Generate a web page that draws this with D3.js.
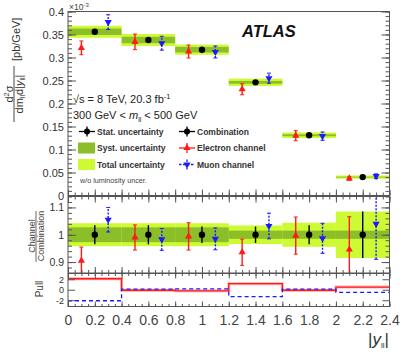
<!DOCTYPE html>
<html>
<head>
<meta charset="utf-8">
<script src="https://cdn.jsdelivr.net/npm/d3@7"></script>
<style>
  body { margin: 0; background: #fff; }
  svg { font-family: "Liberation Sans", Arial, sans-serif; }
</style>
</head>
<body>
<script>
// bins in |y_ll|
const binLo = [0, 0.4, 0.8, 1.2, 1.6, 2.0];
const binHi = [0.4, 0.8, 1.2, 1.6, 2.0, 2.4];
const combX = [0.2, 0.6, 1.0, 1.4, 1.8, 2.2];
const elecX = [0.1, 0.5, 0.9, 1.3, 1.7, 2.1];
const muonX = [0.3, 0.7, 1.1, 1.5, 1.9, 2.3];

// top panel cross sections (x1e-3 pb/GeV)
const comb = [0.356, 0.338, 0.317, 0.246, 0.131, 0.040];
const combErr = [0.006, 0.006, 0.005, 0.005, 0.004, 0.002];
const elec = [0.321, 0.334, 0.313, 0.231, 0.130, 0.037];
const elecErr = [0.015, 0.017, 0.014, 0.012, 0.011, 0.004];
const muon = [0.377, 0.331, 0.312, 0.255, 0.129, 0.042];
const muonErr = [0.016, 0.015, 0.013, 0.011, 0.009, 0.005];
const topTot = [0.013, 0.013, 0.011, 0.008, 0.006, 0.0035];
const topSyst = [0.007, 0.007, 0.006, 0.003, 0.002, 0.0008];

// ratio panel
const combRelErr = [0.035, 0.035, 0.03, 0.03, 0.035, 0.085];
const elecRatio = [0.905, 0.99, 0.994, 0.936, 0.997, 0.946];
const elecRatioErr = [0.05, 0.046, 0.05, 0.048, 0.068, 0.12];
const muonRatio = [1.055, 0.983, 0.985, 1.032, 0.987, 1.04];
const muonRatioErr = [0.045, 0.04, 0.04, 0.047, 0.055, 0.13];
const ratioTot = [0.042, 0.042, 0.042, 0.034, 0.044, 0.085];
const ratioSyst = [0.027, 0.027, 0.027, 0.015, 0.015, 0.015];

// pull panel
const elecPull = [2.1, -0.1, -0.2, 1.15, -0.1, 0.5];
const muonPull = [-2.1, 0.1, 0.15, -1.3, 0.1, -0.5];

const xTicks = [0, 0.2, 0.4, 0.6, 0.8, 1, 1.2, 1.4, 1.6, 1.8, 2, 2.2, 2.4];
const yTopTicks = [0, 0.05, 0.1, 0.15, 0.2, 0.25, 0.3, 0.35, 0.4];
const yRatioTicks = [0.9, 1, 1.1];
const yPullTicks = [-2, 0, 2];

const COL_TOT = "#cdfa32";
const COL_SYST = "#8cbe2a";
const COL_RED = "#ff1a1a";
const COL_BLUE = "#1a1aff";
const FRAME = "#555";

const W = 402, H = 355;
const svg = d3.select("body").append("svg").attr("width", W).attr("height", H);

const x = d3.scaleLinear().domain([0, 2.4]).range([68, 389.5]);
const yTop = d3.scaleLinear().domain([0, 0.4]).range([195.5, 11.5]);
const yRat = d3.scaleLinear().domain([0.86, 1.14]).range([273, 196.5]);
const yPull = d3.scaleLinear().domain([-3.2, 3.1]).range([306.5, 273.5]);

const idx = d3.range(comb.length);

// ---------- bands ----------
function bands(g, y, center, tot, syst) {
    g.selectAll(".tot").data(idx).join("rect")
        .attr("x", i => x(binLo[i])).attr("width", i => x(binHi[i]) - x(binLo[i]))
        .attr("y", i => y(center(i) + tot[i])).attr("height", i => y(center(i) - tot[i]) - y(center(i) + tot[i]))
        .attr("fill", COL_TOT);
    g.selectAll(".syst").data(idx).join("rect")
        .attr("x", i => x(binLo[i])).attr("width", i => x(binHi[i]) - x(binLo[i]))
        .attr("y", i => y(center(i) + syst[i])).attr("height", i => Math.max(0.8, y(center(i) - syst[i]) - y(center(i) + syst[i])))
        .attr("fill", COL_SYST);
}
bands(svg.append("g"), yTop, i => comb[i], topTot, topSyst);
bands(svg.append("g"), yRat, i => 1, ratioTot, ratioSyst);

// ---------- points ----------
const tri = d3.symbol().type(d3.symbolTriangle).size(22);
function points(g, y, xs, vals, errs, color, kind) {
    const lo = y.domain()[0], hi = y.domain()[1];
    const grp = g.selectAll("g").data(idx).join("g");
    grp.append("line")
        .attr("x1", i => x(xs[i])).attr("x2", i => x(xs[i]))
        .attr("y1", i => y(Math.max(lo, vals[i] - errs[i])))
        .attr("y2", i => y(Math.min(hi, vals[i] + errs[i])))
        .attr("stroke", color).attr("stroke-width", 1.4)
        .attr("stroke-dasharray", kind === "muon" ? "2,1.5" : null);
    if (kind !== "comb") {
        [1, -1].forEach(s => {
            grp.filter(i => (s > 0 ? vals[i] + errs[i] < hi : vals[i] - errs[i] > lo))
                .append("line")
                .attr("x1", i => x(xs[i]) - 2).attr("x2", i => x(xs[i]) + 2)
                .attr("y1", i => y(vals[i] + s * errs[i])).attr("y2", i => y(vals[i] + s * errs[i]))
                .attr("stroke", color).attr("stroke-width", 1);
        });
    }
    if (kind === "comb") {
        grp.append("circle").attr("cx", i => x(xs[i])).attr("cy", i => y(vals[i]))
            .attr("r", 3.2).attr("fill", color);
    } else {
        grp.append("path")
            .attr("transform", i => `translate(${x(xs[i])},${y(vals[i])}) rotate(${kind === "muon" ? 180 : 0})`)
            .attr("d", tri).attr("fill", color);
    }
}
points(svg.append("g"), yTop, elecX, elec, elecErr, COL_RED, "elec");
points(svg.append("g"), yTop, muonX, muon, muonErr, COL_BLUE, "muon");
points(svg.append("g"), yTop, combX, comb, combErr, "#000", "comb");

const ones = idx.map(() => 1);
points(svg.append("g"), yRat, elecX, elecRatio, elecRatioErr, COL_RED, "elec");
points(svg.append("g"), yRat, muonX, muonRatio, muonRatioErr, COL_BLUE, "muon");
points(svg.append("g"), yRat, combX, ones, combRelErr, "#000", "comb");

// ---------- pull steps ----------
function stepPts(vals) {
    const pts = [];
    idx.forEach(i => { pts.push([binLo[i], vals[i]]); pts.push([binHi[i], vals[i]]); });
    return pts;
}
const pullLine = d3.line().x(d => x(d[0])).y(d => yPull(d[1]));
svg.append("path").attr("d", pullLine(stepPts(elecPull)))
    .attr("fill", "none").attr("stroke", "#ffb0b0").attr("stroke-width", 3);
svg.append("path").attr("d", pullLine(stepPts(elecPull)))
    .attr("fill", "none").attr("stroke", COL_RED).attr("stroke-width", 1.3);
svg.append("path").attr("d", pullLine(stepPts(muonPull)))
    .attr("fill", "none").attr("stroke", COL_BLUE).attr("stroke-width", 1.3)
    .attr("stroke-dasharray", "4,3");

// ---------- frames and ticks ----------
function frame(y0, y1) {
    svg.append("rect").attr("x", x(0)).attr("y", y0).attr("width", x(2.4) - x(0)).attr("height", y1 - y0)
        .attr("fill", "none").attr("stroke", FRAME).attr("stroke-width", 1);
}
function ticks(axisFn, scale, vals, size, tx, ty, labels, fmt, fsize) {
    const a = axisFn(scale).tickValues(vals).tickSize(-size).tickPadding(4)
        .tickFormat(labels ? fmt : "");
    const g = svg.append("g").attr("transform", `translate(${tx},${ty})`).call(a);
    g.select(".domain").remove();
    g.selectAll("line").attr("stroke", FRAME);
    g.selectAll("text").attr("fill", "#333").attr("font-size", fsize);
    return g;
}
const xMinor = d3.range(0, 2.401, 0.05);
const fmtTop = d => d === 0 ? "0" : String(+d.toFixed(2));

// top panel
frame(yTop(0.4), yTop(0));
ticks(d3.axisBottom, x, xTicks, 6, 0, yTop(0), false);
ticks(d3.axisBottom, x, xMinor, 3, 0, yTop(0), false);
ticks(d3.axisLeft, yTop, yTopTicks, 8, x(0), 0, true, fmtTop, 11);
ticks(d3.axisLeft, yTop, d3.range(0, 0.401, 0.01), 4, x(0), 0, false);
ticks(d3.axisRight, yTop, yTopTicks, 8, x(2.4), 0, false);
ticks(d3.axisRight, yTop, d3.range(0, 0.401, 0.01), 4, x(2.4), 0, false);

// ratio panel
frame(yRat(1.14), yRat(0.86));
ticks(d3.axisTop, x, xTicks, 6, 0, yRat(1.14), false);
ticks(d3.axisTop, x, xMinor, 3, 0, yRat(1.14), false);
ticks(d3.axisBottom, x, xTicks, 6, 0, yRat(0.86), false);
ticks(d3.axisBottom, x, xMinor, 3, 0, yRat(0.86), false);
ticks(d3.axisLeft, yRat, yRatioTicks, 8, x(0), 0, true, d => String(d), 10.5);
ticks(d3.axisLeft, yRat, d3.range(0.86, 1.141, 0.02), 4, x(0), 0, false);
ticks(d3.axisRight, yRat, yRatioTicks, 8, x(2.4), 0, false);
ticks(d3.axisRight, yRat, d3.range(0.86, 1.141, 0.02), 4, x(2.4), 0, false);

// pull panel
frame(yPull(3.1), yPull(-3.2));
ticks(d3.axisTop, x, xTicks, 5, 0, yPull(3.1), false);
ticks(d3.axisTop, x, xMinor, 2.5, 0, yPull(3.1), false);
ticks(d3.axisBottom, x, xTicks, 5, 0, yPull(-3.2), true, d => String(d), 14)
    .selectAll("text").attr("dy", "1.05em").attr("fill", "#444");
ticks(d3.axisBottom, x, xMinor, 2.5, 0, yPull(-3.2), false);
ticks(d3.axisLeft, yPull, yPullTicks, 7, x(0), 0, true, d => String(d), 9);
ticks(d3.axisRight, yPull, yPullTicks, 7, x(2.4), 0, false);

// ---------- texts ----------
const txt = (xx, yy, s, size, opt = {}) => svg.append("text").attr("x", xx).attr("y", yy)
    .attr("font-size", size).attr("fill", opt.fill || "#222")
    .attr("font-weight", opt.weight || null).attr("font-style", opt.style || null)
    .attr("text-anchor", opt.anchor || null).text(s);

// x10^-3
const ex = txt(69, 9.5, "\u00d710", 8.5, { fill: "#444" });
ex.append("tspan").attr("dy", -3).attr("font-size", 6).text("-3");

txt(242, 36.5, "ATLAS", 16.5, { weight: "bold", style: "italic", fill: "#111" });

const l1 = txt(73, 103, "\u221As = 8 TeV, 20.3 fb", 11);
l1.append("tspan").attr("dy", -4).attr("font-size", 7.5).text("-1");
const l2 = txt(73, 119, "300 GeV < ", 11);
l2.append("tspan").attr("font-style", "italic").text("m");
l2.append("tspan").attr("dy", 2.5).attr("font-size", 7).text("ll");
l2.append("tspan").attr("dy", -2.5).text(" < 500 GeV");

// y titles
const rot = (xx, yy) => `translate(${xx},${yy}) rotate(-90)`;
const num = svg.append("text").attr("transform", rot(12.5, 94)).attr("text-anchor", "middle")
    .attr("font-size", 11).attr("fill", "#333");
num.append("tspan").text("d");
num.append("tspan").attr("dy", -4).attr("font-size", 7.5).text("2");
num.append("tspan").attr("dy", 4).text("\u03c3");
svg.append("line").attr("x1", 14).attr("x2", 14).attr("y1", 66).attr("y2", 122)
    .attr("stroke", "#333").attr("stroke-width", 0.9);
const den = svg.append("text").attr("transform", rot(22.5, 94)).attr("text-anchor", "middle")
    .attr("font-size", 11).attr("fill", "#333");
den.append("tspan").text("dm");
den.append("tspan").attr("dy", 2.5).attr("font-size", 7).text("ll");
den.append("tspan").attr("dy", -2.5).text("d|");
den.append("tspan").attr("font-style", "italic").text("y");
den.append("tspan").attr("dy", 2.5).attr("font-size", 7).text("ll");
den.append("tspan").attr("dy", -2.5).text("|");
svg.append("text").attr("transform", rot(20, 61)).attr("font-size", 11).attr("fill", "#333")
    .text("[pb/GeV]");

svg.append("text").attr("transform", rot(34.5, 236)).attr("text-anchor", "middle")
    .attr("font-size", 9).attr("fill", "#444").text("Channel");
svg.append("line").attr("x1", 36).attr("x2", 36).attr("y1", 211).attr("y2", 262)
    .attr("stroke", "#444").attr("stroke-width", 0.8);
svg.append("text").attr("transform", rot(43.5, 236)).attr("text-anchor", "middle")
    .attr("font-size", 9).attr("fill", "#444").text("Combination");
svg.append("text").attr("transform", rot(43, 289)).attr("text-anchor", "middle")
    .attr("font-size", 10).attr("fill", "#444").text("Pull");

// x title
const xt = txt(389, 345, "", 17, { anchor: "end", fill: "#333" });
xt.append("tspan").text("|");
xt.append("tspan").attr("font-style", "italic").text("y");
xt.append("tspan").attr("dy", 3).attr("font-size", 8).text("ll");
xt.append("tspan").attr("dy", -3).text("|");

// ---------- legend ----------
const leg = svg.append("g");
const legItems = [
    { col: 0, row: 0, type: "stat", label: "Stat. uncertainty" },
    { col: 0, row: 1, type: "syst", label: "Syst. uncertainty" },
    { col: 0, row: 2, type: "tot", label: "Total uncertainty" },
    { col: 1, row: 0, type: "comb", label: "Combination" },
    { col: 1, row: 1, type: "elec", label: "Electron channel" },
    { col: 1, row: 2, type: "muon", label: "Muon channel" }
];
const legRowY = [131.5, 148, 164.5];
const legColX = [87, 187];
legItems.forEach(d => {
    const cx = legColX[d.col], cy = legRowY[d.row];
    if (d.type === "syst" || d.type === "tot") {
        leg.append("rect").attr("x", cx - 9).attr("y", cy - 5.5).attr("width", 17).attr("height", 11)
            .attr("fill", d.type === "syst" ? COL_SYST : COL_TOT);
    } else {
        const c = d.type === "elec" ? COL_RED : d.type === "muon" ? COL_BLUE : "#000";
        const dash = d.type === "muon" ? "2.5,1.5" : null;
        leg.append("line").attr("x1", cx - 8).attr("x2", cx + 8).attr("y1", cy).attr("y2", cy)
            .attr("stroke", c).attr("stroke-width", 1.3).attr("stroke-dasharray", dash);
        leg.append("line").attr("x1", cx).attr("x2", cx).attr("y1", cy - 5).attr("y2", cy + 5)
            .attr("stroke", c).attr("stroke-width", 1.3).attr("stroke-dasharray", dash);
        if (d.type === "elec" || d.type === "muon") {
            leg.append("path").attr("transform", `translate(${cx},${cy}) rotate(${d.type === "muon" ? 180 : 0})`)
                .attr("d", tri).attr("fill", c);
        } else {
            leg.append("circle").attr("cx", cx).attr("cy", cy).attr("r", 3).attr("fill", c);
        }
    }
    txt(cx + 10, cy + 3, d.label, 8.5, { weight: "bold", fill: "#333" });
});
txt(80, 183, "w/o luminosity uncer.", 7.2, { fill: "#444" });
</script>
</body>
</html>
